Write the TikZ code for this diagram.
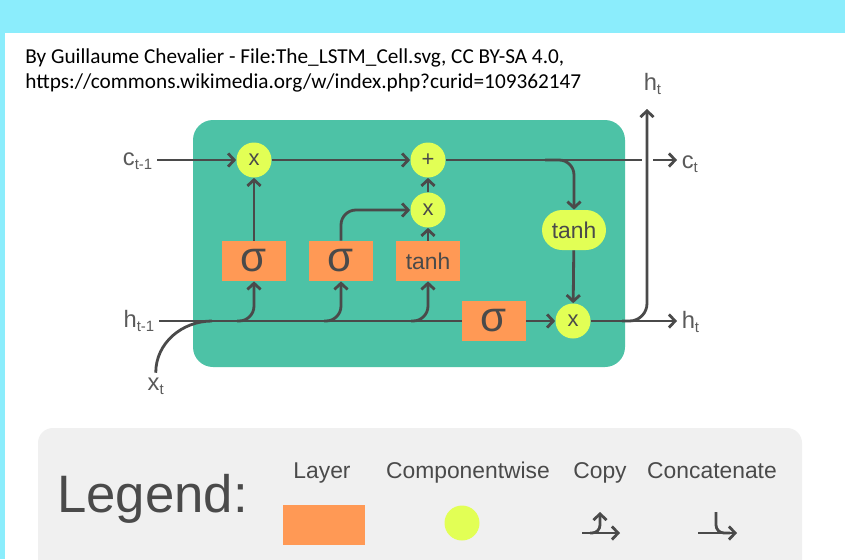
\documentclass[tikz,border=0pt]{standalone}
\usepackage{fontspec}
\setmainfont{Liberation Sans}
\newfontfamily\credfont{Carlito}
\usepackage{xcolor}
\usepackage{tikz}
\usetikzlibrary{positioning, arrows.meta, calc}

\definecolor{cellteal}{HTML}{4DC2A6}
\definecolor{layerorange}{HTML}{FF9955}
\definecolor{opyellow}{HTML}{E2FF55}
\definecolor{wiregray}{HTML}{4A4A4A}
\definecolor{labelgray}{HTML}{5A5A5A}
\definecolor{topcyan}{HTML}{8BEDFC}
\definecolor{legendbg}{HTML}{F0F0F0}

\newcommand{\sublbl}[2]{#1\raisebox{-2.8pt}{\fontsize{8.5}{8.5}\selectfont #2}}

\begin{document}
\begin{tikzpicture}[x=0.02cm, y=-0.02cm,
    wire/.style={draw=wiregray, line width=1.6pt},
    arr/.style={wire, -{Straight Barb[length=3.5pt,width=7.5pt]}},
    layer/.style={rectangle, fill=layerorange, minimum width=1.28cm, minimum height=0.8cm, inner sep=0pt, text=wiregray},
    op/.style={circle, fill=opyellow, minimum size=0.7cm, inner sep=0pt, text=wiregray, font=\fontsize{12.5}{12.5}\selectfont},
    lbl/.style={text=labelgray, inner sep=2.5pt, font=\fontsize{13.5}{13.5}\selectfont},
    legtext/.style={text=wiregray, inner sep=0pt, anchor=base, font=\fontsize{13}{13}\selectfont}]
        \useasboundingbox (0,0) rectangle (845,559);

        % Page
        \fill[white] (0,0) rectangle (845,559);
        \fill[topcyan] (0,0) rectangle (845,33);
        \fill[topcyan] (0,33) rectangle (5,559);

        % Credit
        \node[anchor=base west, inner sep=0pt, font=\credfont\fontsize{12.1}{12.1}\selectfont] (credA) at (25,63) {By Guillaume Chevalier - File:The\_LSTM\_Cell.svg, CC BY-SA 4.0,};
        \node[anchor=base west, inner sep=0pt, font=\credfont\fontsize{12.1}{12.1}\selectfont] (credB) at (25,88) {https://commons.wikimedia.org/w/index.php?curid=109362147};

        % Cell
        \fill[cellteal, rounded corners=0.4cm] (193,120) rectangle (625,367);

        % Operations and layers
        \node[op] (fgate) at (254,160) {x};
        \node[op] (addc) at (428,160) {+};
        \node[op] (igate) at (428,210) {x};
        \node[op] (ogate) at (573,321) {x};
        \node[layer, font=\fontsize{24}{24}\selectfont] (sigf) at (254,261) {σ};
        \node[layer, font=\fontsize{24}{24}\selectfont] (sigi) at (341,261) {σ};
        \node[layer, font=\fontsize{13}{13}\selectfont] (tanhl) at (428,261) {tanh};
        \node[layer, font=\fontsize{24}{24}\selectfont] (sigo) at (494,321) {σ};
        \node[fill=opyellow, rounded corners=0.4cm, minimum width=1.28cm, minimum height=0.8cm, inner sep=0pt, text=wiregray, font=\fontsize{13}{13}\selectfont] (tanhc) at (574,230) {tanh};

        % Labels
        \node[lbl, anchor=base east] (cprev) at (157,165) {\sublbl{c}{t-1}};
        \node[lbl, anchor=base east] (hprev) at (159,327) {\sublbl{h}{t-1}};
        \node[lbl, anchor=base west] (xin) at (143,390) {\sublbl{x}{t}};
        \node[lbl, anchor=base west] (cnext) at (677,168) {\sublbl{c}{t}};
        \node[lbl, anchor=base west] (hnext) at (677,328) {\sublbl{h}{t}};
        \node[lbl, anchor=base west] (hup) at (639,90) {\sublbl{h}{t}};

        % Cell state
        \coordinate (cgapL) at (642,160);
        \coordinate (cgapR) at (653,160);
        \coordinate (cbranch) at (545,160);
        \draw[arr] (cprev.east |- fgate) -- (fgate);
        \draw[arr] (fgate) -- (addc);
        \draw[wire] (addc) -- (cgapL);
        \draw[arr] (cgapR) -- (cnext.west |- cgapR);
        \draw[arr, rounded corners=0.3cm] (cbranch) -| (tanhc);
        \draw[arr] (tanhc) -- (ogate);

        % Hidden state
        \coordinate (xjoin) at (212,321);
        \coordinate (hsplit) at (622,321);
        \coordinate (htop) at (647,109);
        \draw[wire] (hprev.east |- sigo) -- (sigo);
        \draw[wire] (xin.north) to[out=90, in=180] (xjoin);
        \foreach \gate in {sigf, sigi, tanhl} {
          \draw[arr, rounded corners=0.3cm] ($(\gate.south |- sigo)+(-17,0)$) -| (\gate);
        }
        \draw[arr] (sigf) -- (fgate);
        \draw[arr, rounded corners=0.3cm] (sigi) |- (igate);
        \draw[arr] (tanhl) -- (igate);
        \draw[arr] (igate) -- (addc);
        \draw[arr] (sigo) -- (ogate);
        \draw[arr] (ogate) -- (hnext.west |- ogate);
        \draw[arr, rounded corners=0.35cm] (hsplit) -| (htop);

        % Legend
        \fill[legendbg, rounded corners=0.3cm] (38,428) rectangle (802,600);
        \node[anchor=base west, inner sep=0pt, text=wiregray, font=\fontsize{30}{30}\selectfont] (legtitle) at (57,512) {Legend:};
        \node[legtext] (leglayer) at (322,478) {Layer};
        \node[legtext] (legop) at (468,478) {Componentwise};
        \node[legtext] (legcopy) at (600,478) {Copy};
        \node[legtext] (legcat) at (712,478) {Concatenate};
        \node[layer, minimum width=1.64cm] (layerkey) at (324,525) {};
        \node[op] (opkey) at (462,523) {};
        \draw[arr] (582,533) -- (620,533);
        \draw[arr, rounded corners=0.16cm] (590,533) -| (600,512);
        \draw[arr] (698,533) -- (737,533);
        \draw[wire, rounded corners=0.16cm] (716,512) |- (730,533);
      \end{tikzpicture}
\end{document}
